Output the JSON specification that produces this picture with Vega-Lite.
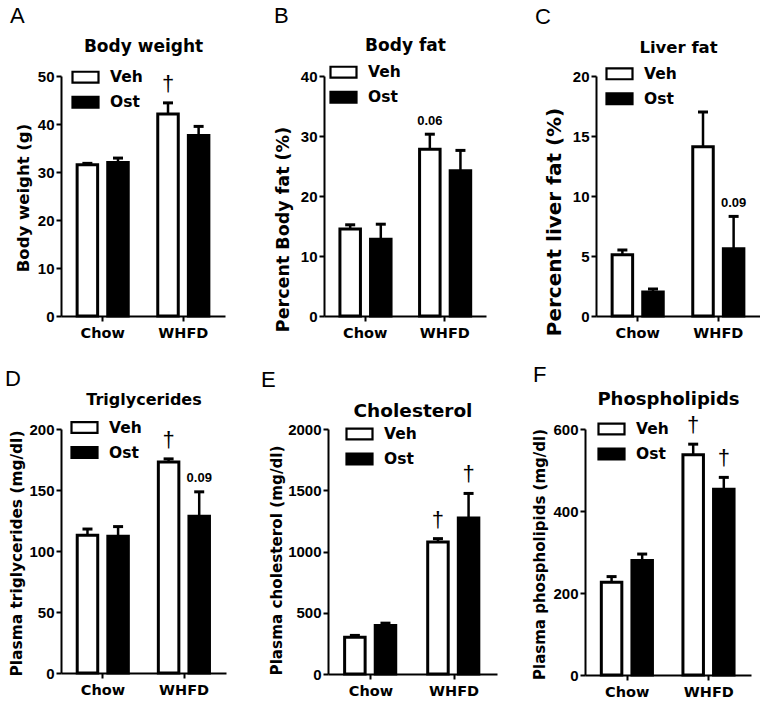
{
"$schema": "https://vega.github.io/schema/vega-lite/v6.json",
"padding": {"left": 5, "top": 5, "right": 0, "bottom": 5},
"background": "white",
"config": {
  "view": {"stroke": null},
  "axis": {"domainColor": "black", "domainWidth": 2, "tickColor": "black", "tickWidth": 2, "tickSize": 5, "labelColor": "black", "titleColor": "black", "grid": false, "labelFont": "Liberation Sans", "labelFontWeight": "bold", "labelFontSize": 15, "titleFont": "DejaVu Sans", "titleFontWeight": "bold"},
  "axisBottom": {"labelFont": "DejaVu Sans", "labelFontSize": 14.5, "labelPadding": 5, "labelAngle": 0},
  "axisLeft": {"labelPadding": 2, "format": "d"},
  "axisTop": {"labels": false, "ticks": false, "domain": false, "titleBaseline": "alphabetic", "titleFont": "DejaVu Sans", "titleFontWeight": "bold"},
  "legend": {"orient": "none", "symbolType": "M-1,-0.42H1V0.42H-1Z", "symbolSize": 676, "symbolStrokeColor": "black", "symbolStrokeWidth": 2.2, "symbolOpacity": 1, "labelFont": "DejaVu Sans", "labelFontSize": 15.5, "labelFontWeight": "bold", "labelColor": "black", "labelOffset": 10, "rowPadding": -1.5, "padding": 0},
  "title": {"font": "Liberation Sans", "fontSize": 22, "fontWeight": "normal", "anchor": "start", "frame": "group", "baseline": "alphabetic", "color": "black"}
},
"data": {"values": [
  {"panel": "A", "diet": "Chow", "treat": "Veh", "value": 31.5, "err": 31.8},
  {"panel": "A", "diet": "Chow", "treat": "Ost", "value": 32.0, "err": 32.9},
  {"panel": "A", "diet": "WHFD", "treat": "Veh", "value": 42.1, "err": 44.4, "note": "†"},
  {"panel": "A", "diet": "WHFD", "treat": "Ost", "value": 37.6, "err": 39.5},
  {"panel": "B", "diet": "Chow", "treat": "Veh", "value": 14.5, "err": 15.2},
  {"panel": "B", "diet": "Chow", "treat": "Ost", "value": 12.8, "err": 15.3},
  {"panel": "B", "diet": "WHFD", "treat": "Veh", "value": 27.8, "err": 30.3, "note": "0.06"},
  {"panel": "B", "diet": "WHFD", "treat": "Ost", "value": 24.2, "err": 27.6},
  {"panel": "C", "diet": "Chow", "treat": "Veh", "value": 5.1, "err": 5.5},
  {"panel": "C", "diet": "Chow", "treat": "Ost", "value": 2.0, "err": 2.25},
  {"panel": "C", "diet": "WHFD", "treat": "Veh", "value": 14.1, "err": 17.0},
  {"panel": "C", "diet": "WHFD", "treat": "Ost", "value": 5.6, "err": 8.3, "note": "0.09"},
  {"panel": "D", "diet": "Chow", "treat": "Veh", "value": 113, "err": 118},
  {"panel": "D", "diet": "Chow", "treat": "Ost", "value": 112, "err": 120},
  {"panel": "D", "diet": "WHFD", "treat": "Veh", "value": 173, "err": 175.5, "note": "†"},
  {"panel": "D", "diet": "WHFD", "treat": "Ost", "value": 128.5, "err": 148.5, "note": "0.09"},
  {"panel": "E", "diet": "Chow", "treat": "Veh", "value": 299, "err": 315},
  {"panel": "E", "diet": "Chow", "treat": "Ost", "value": 396, "err": 415},
  {"panel": "E", "diet": "WHFD", "treat": "Veh", "value": 1078, "err": 1105, "note": "†"},
  {"panel": "E", "diet": "WHFD", "treat": "Ost", "value": 1274, "err": 1474, "note": "†"},
  {"panel": "F", "diet": "Chow", "treat": "Veh", "value": 226, "err": 240},
  {"panel": "F", "diet": "Chow", "treat": "Ost", "value": 279, "err": 295},
  {"panel": "F", "diet": "WHFD", "treat": "Veh", "value": 537, "err": 563, "note": "†"},
  {"panel": "F", "diet": "WHFD", "treat": "Ost", "value": 453, "err": 482, "note": "†"}
]},
"spacing": 24,
"resolve": {"scale": {"fill": "independent"}, "legend": {"fill": "independent"}},
"vconcat": [
 {"hconcat": [
  {"width": 164, "height": 240,
   "title": {"text": "A", "dx": -51, "offset": 8.6},
   "transform": [{"filter": "datum.panel === 'A'"}],
   "layer": [
    {"mark": {"type": "bar", "stroke": "black", "strokeWidth": 3},
     "encoding": {
      "x": {"field": "diet", "type": "nominal", "sort": ["Chow", "WHFD"], "scale": {"paddingInner": 0.366, "paddingOuter": 0.2}, "axis": {"orient": "bottom", "title": null}},
      "xOffset": {"field": "treat", "type": "nominal", "sort": ["Veh", "Ost"], "scale": {"paddingInner": 0.33, "paddingOuter": 0}},
      "y": {"field": "value", "type": "quantitative", "scale": {"domain": [0, 50], "nice": false}, "axis": {"title": "Body weight (g)", "values": [0, 10, 20, 30, 40, 50], "titleFontSize": 16.5, "titlePadding": 5.5, "titleY": 121.5}},
      "fill": {"field": "treat", "type": "nominal", "sort": ["Veh", "Ost"], "scale": {"domain": ["Veh", "Ost"], "range": ["white", "black"]}, "legend": {"title": null, "legendX": 10, "legendY": -13.3}}
     }},
    {"mark": {"type": "rule", "color": "black", "strokeWidth": 2.5},
     "encoding": {
      "x": {"field": "diet", "type": "nominal", "sort": ["Chow", "WHFD"], "axis": {"orient": "top", "title": "Body weight", "titleFontSize": 17, "titlePadding": 25}},
      "xOffset": {"field": "treat", "type": "nominal", "sort": ["Veh", "Ost"]},
      "y": {"field": "value", "type": "quantitative", "axis": null},
      "y2": {"field": "err"}
     }},
    {"mark": {"type": "tick", "orient": "horizontal", "size": 10, "thickness": 3, "color": "black", "opacity": 1},
     "encoding": {
      "x": {"field": "diet", "type": "nominal", "sort": ["Chow", "WHFD"], "axis": null},
      "xOffset": {"field": "treat", "type": "nominal", "sort": ["Veh", "Ost"]},
      "y": {"field": "err", "type": "quantitative", "axis": null}
     }},
    {"transform": [{"filter": "datum.note === '†'"}],
     "mark": {"type": "text", "font": "Liberation Sans", "fontSize": 22, "baseline": "alphabetic", "dy": -12, "color": "black"},
     "encoding": {
      "x": {"field": "diet", "type": "nominal", "sort": ["Chow", "WHFD"], "axis": null},
      "xOffset": {"field": "treat", "type": "nominal", "sort": ["Veh", "Ost"]},
      "y": {"field": "err", "type": "quantitative", "axis": null},
      "text": {"field": "note"}
     }}
   ],
   "resolve": {"axis": {"x": "independent", "y": "independent"}}
  },
  {"width": 162, "height": 240,
   "title": {"text": "B", "dx": -50, "offset": 7.6},
   "transform": [{"filter": "datum.panel === 'B'"}],
   "layer": [
    {"mark": {"type": "bar", "stroke": "black", "strokeWidth": 3},
     "encoding": {
      "x": {"field": "diet", "type": "nominal", "sort": ["Chow", "WHFD"], "scale": {"paddingInner": 0.366, "paddingOuter": 0.2}, "axis": {"orient": "bottom", "title": null}},
      "xOffset": {"field": "treat", "type": "nominal", "sort": ["Veh", "Ost"], "scale": {"paddingInner": 0.33, "paddingOuter": 0}},
      "y": {"field": "value", "type": "quantitative", "scale": {"domain": [0, 40], "nice": false}, "axis": {"title": "Percent Body fat (%)", "values": [0, 10, 20, 30, 40], "titleFontSize": 17.5, "titlePadding": 8, "titleY": 153}},
      "fill": {"field": "treat", "type": "nominal", "sort": ["Veh", "Ost"], "scale": {"domain": ["Veh", "Ost"], "range": ["white", "black"]}, "legend": {"title": null, "legendX": 5, "legendY": -18.3}}
     }},
    {"mark": {"type": "rule", "color": "black", "strokeWidth": 2.5},
     "encoding": {
      "x": {"field": "diet", "type": "nominal", "sort": ["Chow", "WHFD"], "axis": {"orient": "top", "title": "Body fat", "titleFontSize": 17, "titlePadding": 26}},
      "xOffset": {"field": "treat", "type": "nominal", "sort": ["Veh", "Ost"]},
      "y": {"field": "value", "type": "quantitative", "axis": null},
      "y2": {"field": "err"}
     }},
    {"mark": {"type": "tick", "orient": "horizontal", "size": 10, "thickness": 3, "color": "black", "opacity": 1},
     "encoding": {
      "x": {"field": "diet", "type": "nominal", "sort": ["Chow", "WHFD"], "axis": null},
      "xOffset": {"field": "treat", "type": "nominal", "sort": ["Veh", "Ost"]},
      "y": {"field": "err", "type": "quantitative", "axis": null}
     }},
    {"transform": [{"filter": "isValid(datum.note) && datum.note !== '†'"}],
     "mark": {"type": "text", "font": "Liberation Sans", "fontWeight": "bold", "fontSize": 13, "baseline": "alphabetic", "dy": -9.5, "color": "black"},
     "encoding": {
      "x": {"field": "diet", "type": "nominal", "sort": ["Chow", "WHFD"], "axis": null},
      "xOffset": {"field": "treat", "type": "nominal", "sort": ["Veh", "Ost"]},
      "y": {"field": "err", "type": "quantitative", "axis": null},
      "text": {"field": "note"}
     }}
   ],
   "resolve": {"axis": {"x": "independent", "y": "independent"}}
  },
  {"width": 164, "height": 240,
   "title": {"text": "C", "dx": -61, "offset": 10},
   "transform": [{"filter": "datum.panel === 'C'"}],
   "layer": [
    {"mark": {"type": "bar", "stroke": "black", "strokeWidth": 3},
     "encoding": {
      "x": {"field": "diet", "type": "nominal", "sort": ["Chow", "WHFD"], "scale": {"paddingInner": 0.366, "paddingOuter": 0.2}, "axis": {"orient": "bottom", "title": null}},
      "xOffset": {"field": "treat", "type": "nominal", "sort": ["Veh", "Ost"], "scale": {"paddingInner": 0.33, "paddingOuter": 0}},
      "y": {"field": "value", "type": "quantitative", "scale": {"domain": [0, 20], "nice": false}, "axis": {"title": "Percent liver fat (%)", "values": [0, 5, 10, 15, 20], "titleFontSize": 20, "titlePadding": 7.5, "titleY": 145.5}},
      "fill": {"field": "treat", "type": "nominal", "sort": ["Veh", "Ost"], "scale": {"domain": ["Veh", "Ost"], "range": ["white", "black"]}, "legend": {"title": null, "legendX": 9, "legendY": -16.7}}
     }},
    {"mark": {"type": "rule", "color": "black", "strokeWidth": 2.5},
     "encoding": {
      "x": {"field": "diet", "type": "nominal", "sort": ["Chow", "WHFD"], "axis": {"orient": "top", "title": "Liver fat", "titleFontSize": 16.5, "titlePadding": 24}},
      "xOffset": {"field": "treat", "type": "nominal", "sort": ["Veh", "Ost"]},
      "y": {"field": "value", "type": "quantitative", "axis": null},
      "y2": {"field": "err"}
     }},
    {"mark": {"type": "tick", "orient": "horizontal", "size": 10, "thickness": 3, "color": "black", "opacity": 1},
     "encoding": {
      "x": {"field": "diet", "type": "nominal", "sort": ["Chow", "WHFD"], "axis": null},
      "xOffset": {"field": "treat", "type": "nominal", "sort": ["Veh", "Ost"]},
      "y": {"field": "err", "type": "quantitative", "axis": null}
     }},
    {"transform": [{"filter": "isValid(datum.note) && datum.note !== '†'"}],
     "mark": {"type": "text", "font": "Liberation Sans", "fontWeight": "bold", "fontSize": 13, "baseline": "alphabetic", "dy": -9.5, "color": "black"},
     "encoding": {
      "x": {"field": "diet", "type": "nominal", "sort": ["Chow", "WHFD"], "axis": null},
      "xOffset": {"field": "treat", "type": "nominal", "sort": ["Veh", "Ost"]},
      "y": {"field": "err", "type": "quantitative", "axis": null},
      "text": {"field": "note"}
     }}
   ],
   "resolve": {"axis": {"x": "independent", "y": "independent"}}
  }
 ], "spacing": 49, "resolve": {"scale": {"fill": "independent"}, "legend": {"fill": "independent"}}},
 {"hconcat": [
  {"width": 165, "height": 244,
   "title": {"text": "D", "dx": -56, "offset": 0},
   "transform": [{"filter": "datum.panel === 'D'"}],
   "layer": [
    {"mark": {"type": "bar", "stroke": "black", "strokeWidth": 3},
     "encoding": {
      "x": {"field": "diet", "type": "nominal", "sort": ["Chow", "WHFD"], "scale": {"paddingInner": 0.366, "paddingOuter": 0.2}, "axis": {"orient": "bottom", "title": null}},
      "xOffset": {"field": "treat", "type": "nominal", "sort": ["Veh", "Ost"], "scale": {"paddingInner": 0.33, "paddingOuter": 0}},
      "y": {"field": "value", "type": "quantitative", "scale": {"domain": [0, 200], "nice": false}, "axis": {"title": "Plasma triglycerides (mg/dl)", "values": [0, 50, 100, 150, 200], "titleFontSize": 15.4, "titlePadding": 4.5, "titleY": 124}},
      "fill": {"field": "treat", "type": "nominal", "sort": ["Veh", "Ost"], "scale": {"domain": ["Veh", "Ost"], "range": ["white", "black"]}, "legend": {"title": null, "legendX": 9, "legendY": -16}}
     }},
    {"mark": {"type": "rule", "color": "black", "strokeWidth": 2.5},
     "encoding": {
      "x": {"field": "diet", "type": "nominal", "sort": ["Chow", "WHFD"], "axis": {"orient": "top", "title": "Triglycerides", "titleFontSize": 16, "titlePadding": 25}},
      "xOffset": {"field": "treat", "type": "nominal", "sort": ["Veh", "Ost"]},
      "y": {"field": "value", "type": "quantitative", "axis": null},
      "y2": {"field": "err"}
     }},
    {"mark": {"type": "tick", "orient": "horizontal", "size": 10, "thickness": 3, "color": "black", "opacity": 1},
     "encoding": {
      "x": {"field": "diet", "type": "nominal", "sort": ["Chow", "WHFD"], "axis": null},
      "xOffset": {"field": "treat", "type": "nominal", "sort": ["Veh", "Ost"]},
      "y": {"field": "err", "type": "quantitative", "axis": null}
     }},
    {"transform": [{"filter": "datum.note === '†'"}],
     "mark": {"type": "text", "font": "Liberation Sans", "fontSize": 22, "baseline": "alphabetic", "dy": -12, "color": "black"},
     "encoding": {
      "x": {"field": "diet", "type": "nominal", "sort": ["Chow", "WHFD"], "axis": null},
      "xOffset": {"field": "treat", "type": "nominal", "sort": ["Veh", "Ost"]},
      "y": {"field": "err", "type": "quantitative", "axis": null},
      "text": {"field": "note"}
     }},
    {"transform": [{"filter": "isValid(datum.note) && datum.note !== '†'"}],
     "mark": {"type": "text", "font": "Liberation Sans", "fontWeight": "bold", "fontSize": 13, "baseline": "alphabetic", "dy": -9.5, "color": "black"},
     "encoding": {
      "x": {"field": "diet", "type": "nominal", "sort": ["Chow", "WHFD"], "axis": null},
      "xOffset": {"field": "treat", "type": "nominal", "sort": ["Veh", "Ost"]},
      "y": {"field": "err", "type": "quantitative", "axis": null},
      "text": {"field": "note"}
     }}
   ],
   "resolve": {"axis": {"x": "independent", "y": "independent"}}
  },
  {"width": 169, "height": 245,
   "title": {"text": "E", "dx": -67, "offset": 9},
   "transform": [{"filter": "datum.panel === 'E'"}],
   "layer": [
    {"mark": {"type": "bar", "stroke": "black", "strokeWidth": 3},
     "encoding": {
      "x": {"field": "diet", "type": "nominal", "sort": ["Chow", "WHFD"], "scale": {"paddingInner": 0.366, "paddingOuter": 0.2}, "axis": {"orient": "bottom", "title": null}},
      "xOffset": {"field": "treat", "type": "nominal", "sort": ["Veh", "Ost"], "scale": {"paddingInner": 0.33, "paddingOuter": 0}},
      "y": {"field": "value", "type": "quantitative", "scale": {"domain": [0, 2000], "nice": false}, "axis": {"title": "Plasma cholesterol (mg/dl)", "values": [0, 500, 1000, 1500, 2000], "titleFontSize": 15.2, "titlePadding": 3, "titleY": 131}},
      "fill": {"field": "treat", "type": "nominal", "sort": ["Veh", "Ost"], "scale": {"domain": ["Veh", "Ost"], "range": ["white", "black"]}, "legend": {"title": null, "legendX": 17, "legendY": -9.5}}
     }},
    {"mark": {"type": "rule", "color": "black", "strokeWidth": 2.5},
     "encoding": {
      "x": {"field": "diet", "type": "nominal", "sort": ["Chow", "WHFD"], "axis": {"orient": "top", "title": "Cholesterol", "titleFontSize": 18.5, "titlePadding": 13}},
      "xOffset": {"field": "treat", "type": "nominal", "sort": ["Veh", "Ost"]},
      "y": {"field": "value", "type": "quantitative", "axis": null},
      "y2": {"field": "err"}
     }},
    {"mark": {"type": "tick", "orient": "horizontal", "size": 10, "thickness": 3, "color": "black", "opacity": 1},
     "encoding": {
      "x": {"field": "diet", "type": "nominal", "sort": ["Chow", "WHFD"], "axis": null},
      "xOffset": {"field": "treat", "type": "nominal", "sort": ["Veh", "Ost"]},
      "y": {"field": "err", "type": "quantitative", "axis": null}
     }},
    {"transform": [{"filter": "datum.note === '†'"}],
     "mark": {"type": "text", "font": "Liberation Sans", "fontSize": 22, "baseline": "alphabetic", "dy": -12, "color": "black"},
     "encoding": {
      "x": {"field": "diet", "type": "nominal", "sort": ["Chow", "WHFD"], "axis": null},
      "xOffset": {"field": "treat", "type": "nominal", "sort": ["Veh", "Ost"]},
      "y": {"field": "err", "type": "quantitative", "axis": null},
      "text": {"field": "note"}
     }}
   ],
   "resolve": {"axis": {"x": "independent", "y": "independent"}}
  },
  {"width": 166, "height": 246,
   "title": {"text": "F", "dx": -52, "offset": 2.6},
   "transform": [{"filter": "datum.panel === 'F'"}],
   "layer": [
    {"mark": {"type": "bar", "stroke": "black", "strokeWidth": 3},
     "encoding": {
      "x": {"field": "diet", "type": "nominal", "sort": ["Chow", "WHFD"], "scale": {"paddingInner": 0.366, "paddingOuter": 0.2}, "axis": {"orient": "bottom", "title": null}},
      "xOffset": {"field": "treat", "type": "nominal", "sort": ["Veh", "Ost"], "scale": {"paddingInner": 0.33, "paddingOuter": 0}},
      "y": {"field": "value", "type": "quantitative", "scale": {"domain": [0, 600], "nice": false}, "axis": {"title": "Plasma phospholipids (mg/dl)", "values": [0, 200, 400, 600], "titleFontSize": 15, "titlePadding": 5, "titleY": 125}},
      "fill": {"field": "treat", "type": "nominal", "sort": ["Veh", "Ost"], "scale": {"domain": ["Veh", "Ost"], "range": ["white", "black"]}, "legend": {"title": null, "legendX": 12, "legendY": -14.5}}
     }},
    {"mark": {"type": "rule", "color": "black", "strokeWidth": 2.5},
     "encoding": {
      "x": {"field": "diet", "type": "nominal", "sort": ["Chow", "WHFD"], "axis": {"orient": "top", "title": "Phospholipids", "titleFontSize": 18, "titlePadding": 25}},
      "xOffset": {"field": "treat", "type": "nominal", "sort": ["Veh", "Ost"]},
      "y": {"field": "value", "type": "quantitative", "axis": null},
      "y2": {"field": "err"}
     }},
    {"mark": {"type": "tick", "orient": "horizontal", "size": 10, "thickness": 3, "color": "black", "opacity": 1},
     "encoding": {
      "x": {"field": "diet", "type": "nominal", "sort": ["Chow", "WHFD"], "axis": null},
      "xOffset": {"field": "treat", "type": "nominal", "sort": ["Veh", "Ost"]},
      "y": {"field": "err", "type": "quantitative", "axis": null}
     }},
    {"transform": [{"filter": "datum.note === '†'"}],
     "mark": {"type": "text", "font": "Liberation Sans", "fontSize": 22, "baseline": "alphabetic", "dy": -12, "color": "black"},
     "encoding": {
      "x": {"field": "diet", "type": "nominal", "sort": ["Chow", "WHFD"], "axis": null},
      "xOffset": {"field": "treat", "type": "nominal", "sort": ["Veh", "Ost"]},
      "y": {"field": "err", "type": "quantitative", "axis": null},
      "text": {"field": "note"}
     }}
   ],
   "resolve": {"axis": {"x": "independent", "y": "independent"}}
  }
 ], "spacing": 35, "resolve": {"scale": {"fill": "independent"}, "legend": {"fill": "independent"}}}
]
}
